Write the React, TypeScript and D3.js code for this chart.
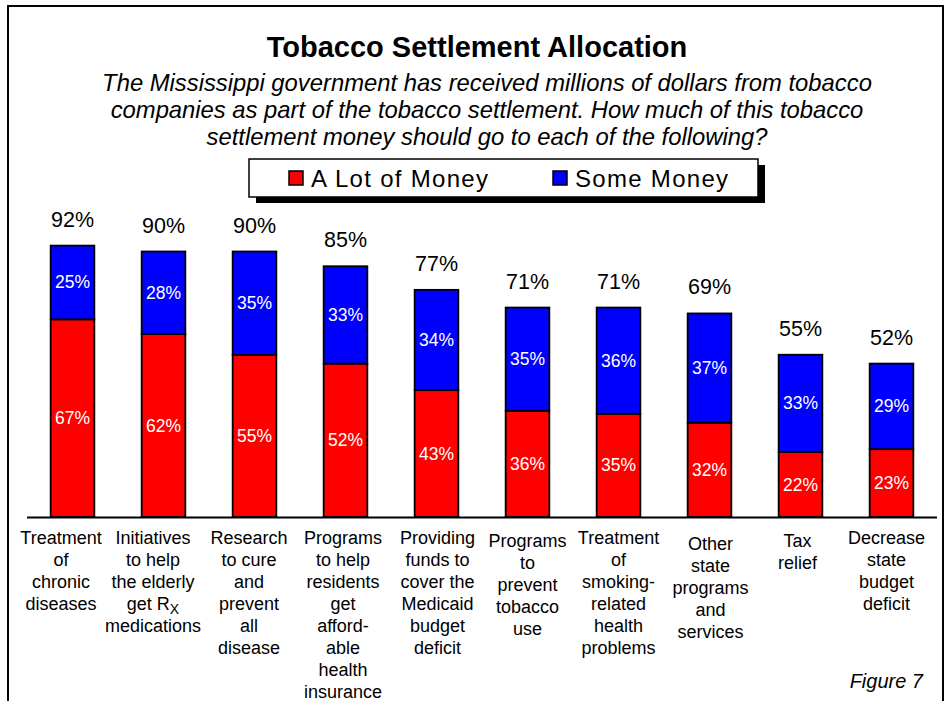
import React from "react";
import * as d3 from "d3";

const categories: string[][] = [
  ["Treatment", "of", "chronic", "diseases"],
  ["Initiatives", "to help", "the elderly", "get R_X", "medications"],
  ["Research", "to cure", "and", "prevent", "all", "disease"],
  ["Programs", "to help", "residents", "get", "afford-", "able", "health", "insurance"],
  ["Providing", "funds to", "cover the", "Medicaid", "budget", "deficit"],
  ["Programs", "to", "prevent", "tobacco", "use"],
  ["Treatment", "of", "smoking-", "related", "health", "problems"],
  ["Other", "state", "programs", "and", "services"],
  ["Tax", "relief"],
  ["Decrease", "state", "budget", "deficit"],
];
const lotOfMoney = [67, 62, 55, 52, 43, 36, 35, 32, 22, 23];
const someMoney = [25, 28, 35, 33, 34, 35, 36, 37, 33, 29];
const totals = [92, 90, 90, 85, 77, 71, 71, 69, 55, 52];
const seriesNames = ["A Lot of Money", "Some Money"];
const seriesColors = ["#ff0000", "#0000ff"];
const title = "Tobacco Settlement Allocation";
const subtitle = [
  "The Mississippi government has received millions of dollars from tobacco",
  "companies as part of the tobacco settlement. How much of this tobacco",
  "settlement money should go to each of the following?",
];
const footnote = "Figure 7";

// layout nudges for the wrapped category labels (as laid out in the original)
const labelShiftX = [-11.5, -10.5, -5.5, -2.5, 1, 0, 0, 1, -3, -5];
const labelShiftY = [0, 0, 0, 0, 0, 3, 0, 6, 3, 0];

const FONT = "Arial, 'Liberation Sans', Helvetica, sans-serif";

function Label({ text }: { text: string }) {
  if (text.includes("_")) {
    const [a, b] = text.split("_");
    return (
      <>
        {a}
        <tspan baselineShift="-25%" fontSize="14">{b}</tspan>
      </>
    );
  }
  return <>{text}</>;
}

export default function App() {
  const W = 948;
  const H = 701;
  const idx = categories.map((_, i) => i);
  const x = d3
    .scaleBand<number>()
    .domain(idx)
    .range([27, 937])
    .paddingInner(0.52)
    .paddingOuter(0.26);
  const y = d3.scaleLinear().domain([0, 100]).range([517, 222]);

  const stack = d3
    .stack<number, string>()
    .keys(["lot", "some"])
    .value((i, key) => (key === "lot" ? lotOfMoney[i] : someMoney[i]));
  const layers = stack(idx);
  const bw = x.bandwidth();

  return (
    <svg
      width={W}
      height={H}
      style={{ position: "absolute", left: 0, top: 0, background: "#fff" }}
      fontFamily={FONT}
    >
      <rect x={0} y={0} width={W} height={H} fill="#fff" />
      <rect x={8} y={6} width={935} height={740} fill="none" stroke="#000" strokeWidth={2} />

      <text x={477} y={57} textAnchor="middle" fontSize={29} fontWeight="bold">
        {title}
      </text>
      {subtitle.map((s, i) => (
        <text key={i} x={487} y={91 + i * 27} textAnchor="middle" fontSize={23.8} fontStyle="italic">
          {s}
        </text>
      ))}

      {/* legend */}
      <rect x={256} y={165} width={509} height={38} fill="#000" />
      <rect x={249} y={159} width={509} height={38} fill="#fff" stroke="#000" strokeWidth={1.5} />
      {seriesNames.map((n, i) => {
        const lx = i === 0 ? 289 : 553;
        return (
          <g key={n}>
            <rect x={lx} y={171} width={14} height={14} fill={seriesColors[i]} stroke="#000" strokeWidth={1.5} />
            <text x={lx + 22} y={187} fontSize={24} letterSpacing={1.3}>
              {n}
            </text>
          </g>
        );
      })}

      {/* bars */}
      {layers.map((layer, li) => (
        <g key={layer.key}>
          {layer.map((d, i) => {
            const y0 = y(d[0]);
            const y1 = y(d[1]);
            const xx = x(i)!;
            const val = li === 0 ? lotOfMoney[i] : someMoney[i];
            return (
              <g key={i}>
                <rect
                  x={xx}
                  y={y1}
                  width={bw}
                  height={y0 - y1}
                  fill={seriesColors[li]}
                  stroke="#000"
                  strokeWidth={1.8}
                />
                <text
                  x={xx + bw / 2}
                  y={(y0 + y1) / 2 + 6}
                  textAnchor="middle"
                  fontSize={17.5}
                  fill="#fff"
                >
                  {val}%
                </text>
              </g>
            );
          })}
        </g>
      ))}

      {totals.map((t, i) => (
        <text key={i} x={x(i)! + bw / 2} y={y(t) - 19} textAnchor="middle" fontSize={21.5}>
          {t}%
        </text>
      ))}

      <line x1={27} x2={937} y1={517.5} y2={517.5} stroke="#000" strokeWidth={1.8} />

      {categories.map((lines, i) => {
        const cx = x(i)! + bw / 2 + labelShiftX[i];
        return (
          <text key={i} x={cx} textAnchor="middle" fontSize={18}>
            {lines.map((l, j) => (
              <tspan key={j} x={cx} y={544 + labelShiftY[i] + j * 22}>
                <Label text={l} />
              </tspan>
            ))}
          </text>
        );
      })}

      <text x={923} y={688} textAnchor="end" fontSize={20} fontStyle="italic">
        {footnote}
      </text>
    </svg>
  );
}
